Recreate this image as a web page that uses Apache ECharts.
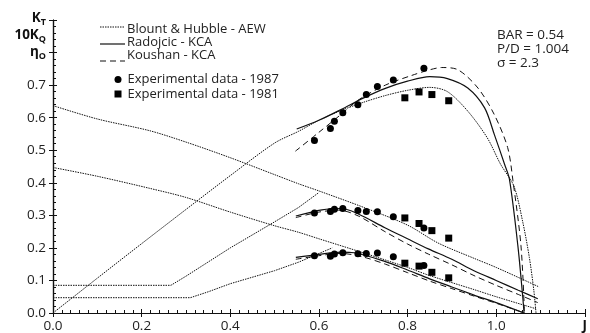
<!DOCTYPE html>
<html>
<head>
<meta charset="utf-8">
<script src="https://cdn.jsdelivr.net/npm/echarts@6/dist/echarts.min.js"></script>
<style>
  html, body { margin: 0; padding: 0; background: #fff; }
  #chart { width: 590px; height: 333px; }
</style>
</head>
<body>
<div id="chart"></div>
<script>
// Advance coefficient J for each curve, with K_T, 10K_Q and eta_O values.

// Blount & Hubble - AEW
const bhEtaJ = [0, 0.1, 0.2, 0.3, 0.4, 0.5, 0.554, 0.6, 0.65, 0.7, 0.75, 0.8, 0.85, 0.89, 0.936, 0.98, 1.01, 1.04, 1.06, 1.075, 1.085, 1.09];
const bhEta  = [0, 0.107, 0.213, 0.318, 0.422, 0.522, 0.558, 0.592, 0.622, 0.647, 0.668, 0.684, 0.693, 0.68, 0.62, 0.538, 0.457, 0.39, 0.28, 0.17, 0.07, 0.0];
const bhKqJ  = [0, 0.1, 0.218, 0.3, 0.4, 0.5, 0.554, 0.6, 0.7, 0.8, 0.869, 0.95, 1.0, 1.097];
const bhKq   = [0.637, 0.596, 0.56, 0.525, 0.477, 0.425, 0.397, 0.375, 0.325, 0.27, 0.215, 0.168, 0.14, 0.08];
const bhKtJ  = [0, 0.1, 0.218, 0.3, 0.4, 0.5, 0.554, 0.6, 0.7, 0.8, 0.85, 0.95, 1.0, 1.09];
const bhKt   = [0.447, 0.42, 0.383, 0.355, 0.31, 0.268, 0.248, 0.228, 0.185, 0.14, 0.115, 0.072, 0.05, 0.013];
// low-J branches of the AEW curves
const bhLowAJ = [0, 0.266, 0.3, 0.4, 0.5, 0.554, 0.6];
const bhLowA  = [0.085, 0.085, 0.113, 0.2, 0.28, 0.324, 0.37];
const bhLowBJ = [0, 0.31, 0.35, 0.4, 0.5, 0.554, 0.63];
const bhLowB  = [0.047, 0.047, 0.065, 0.09, 0.13, 0.156, 0.2];

// Radojcic - KCA
const raEtaJ = [0.55, 0.6, 0.65, 0.7, 0.75, 0.8, 0.85, 0.89, 0.936, 0.974, 0.996, 1.019, 1.03, 1.049, 1.06, 1.063];
const raEta  = [0.565, 0.592, 0.625, 0.66, 0.69, 0.712, 0.726, 0.72, 0.691, 0.63, 0.548, 0.457, 0.411, 0.207, 0.05, 0.0];
const raKqJ  = [0.548, 0.607, 0.652, 0.689, 0.749, 0.8, 0.847, 0.9, 0.95, 1.0, 1.05, 1.094];
const raKq   = [0.298, 0.317, 0.321, 0.304, 0.262, 0.228, 0.197, 0.165, 0.13, 0.1, 0.07, 0.044];
const raKtJ  = [0.548, 0.6, 0.65, 0.68, 0.75, 0.8, 0.85, 0.9, 0.95, 1.0, 1.063];
const raKt   = [0.171, 0.18, 0.187, 0.185, 0.158, 0.132, 0.105, 0.08, 0.055, 0.032, 0.0];

// Koushan - KCA
const koEtaJ = [0.547, 0.6, 0.65, 0.69, 0.75, 0.81, 0.85, 0.877, 0.914, 0.959, 0.996, 1.026, 1.038, 1.056, 1.064];
const koEta  = [0.497, 0.555, 0.61, 0.655, 0.7, 0.73, 0.747, 0.754, 0.747, 0.691, 0.609, 0.508, 0.406, 0.207, 0.0];
const koKqJ  = [0.548, 0.6, 0.645, 0.689, 0.749, 0.8, 0.847, 0.9, 0.95, 1.0, 1.05, 1.094];
const koKq   = [0.293, 0.31, 0.316, 0.298, 0.25, 0.212, 0.181, 0.148, 0.115, 0.085, 0.057, 0.032];
const koKtJ  = [0.548, 0.6, 0.65, 0.7, 0.75, 0.8, 0.85, 0.9, 0.95, 1.0, 1.064];
const koKt   = [0.165, 0.176, 0.183, 0.172, 0.15, 0.124, 0.098, 0.075, 0.052, 0.03, 0.0];

// Experimental data - 1987
const ex87J   = [0.59, 0.626, 0.635, 0.654, 0.688, 0.707, 0.732, 0.768, 0.837];
const ex87Eta = [0.53, 0.567, 0.589, 0.615, 0.64, 0.671, 0.696, 0.716, 0.752];
const ex87Kq  = [0.307, 0.312, 0.319, 0.321, 0.315, 0.312, 0.311, 0.296, 0.261];
const ex87Kt  = [0.176, 0.174, 0.181, 0.185, 0.182, 0.183, 0.184, 0.173, 0.146];

// Experimental data - 1981
const ex81J   = [0.794, 0.826, 0.855, 0.893];
const ex81Eta = [0.661, 0.679, 0.671, 0.652];
const ex81Kq  = [0.292, 0.275, 0.253, 0.23];
const ex81Kt  = [0.153, 0.144, 0.125, 0.108];

// Axis ticks
const xTicks = [0, 0.2, 0.4, 0.6, 0.8, 1.0, 1.2];
const yTicks = [0, 0.1, 0.2, 0.3, 0.4, 0.5, 0.6, 0.7, 0.8, 0.9];

const pairs = (xs, ys) => xs.map((x, i) => [x, ys[i]]);

const INK = '#111';
const FONT = '"Open Sans", "Noto Sans", sans-serif';
const LINE_NAMES = ['Blount & Hubble - AEW', 'Radojcic - KCA', 'Koushan - KCA'];
const POINT_NAMES = ['Experimental data - 1987', 'Experimental data - 1981'];
const styles = {
  'Blount & Hubble - AEW': { type: [1.5, 1], width: 1 },
  'Radojcic - KCA': { type: 'solid', width: 1.2 },
  'Koushan - KCA': { type: [6, 4], width: 1 }
};

function lineSeries(name, xs, ys, smooth) {
  return {
    name, type: 'line', data: pairs(xs, ys), symbol: 'none', showSymbol: false,
    smooth: smooth === undefined ? 0.3 : smooth,
    lineStyle: Object.assign({ color: INK }, styles[name]),
    itemStyle: { color: INK }, z: 3, silent: true
  };
}
function pointSeries(name, xs, ys, symbol) {
  return {
    name, type: 'scatter', data: pairs(xs, ys), symbol, symbolSize: 7,
    itemStyle: { color: '#000', opacity: 1 }, z: 4, silent: true
  };
}

const series = [
  lineSeries('Blount & Hubble - AEW', bhEtaJ, bhEta),
  lineSeries('Blount & Hubble - AEW', bhKqJ, bhKq),
  lineSeries('Blount & Hubble - AEW', bhKtJ, bhKt),
  lineSeries('Blount & Hubble - AEW', bhLowAJ, bhLowA, false),
  lineSeries('Blount & Hubble - AEW', bhLowBJ, bhLowB, false),
  lineSeries('Radojcic - KCA', raEtaJ, raEta),
  lineSeries('Radojcic - KCA', raKqJ, raKq),
  lineSeries('Radojcic - KCA', raKtJ, raKt),
  lineSeries('Koushan - KCA', koEtaJ, koEta),
  lineSeries('Koushan - KCA', koKqJ, koKq),
  lineSeries('Koushan - KCA', koKtJ, koKt),
  pointSeries('Experimental data - 1987', ex87J, ex87Eta, 'circle'),
  pointSeries('Experimental data - 1987', ex87J, ex87Kq, 'circle'),
  pointSeries('Experimental data - 1987', ex87J, ex87Kt, 'circle'),
  pointSeries('Experimental data - 1981', ex81J, ex81Eta, 'rect'),
  pointSeries('Experimental data - 1981', ex81J, ex81Kq, 'rect'),
  pointSeries('Experimental data - 1981', ex81J, ex81Kt, 'rect')
];

const axisLine = { show: true, onZero: false, lineStyle: { color: INK, width: 1.2 } };
const xMin = xTicks[0], xMax = xTicks[xTicks.length - 1];
const yMin = yTicks[0], yMax = yTicks[yTicks.length - 1];
const legendText = { fontFamily: FONT, fontSize: 13, color: '#222' };
const symbolRich = {
  b: { fontWeight: 'bold', fontSize: 13.5, fontFamily: FONT, fill: '#111', color: '#111', lineHeight: 17 },
  s: { fontWeight: 'bold', fontSize: 9, fontFamily: FONT, fill: '#111', color: '#111', lineHeight: 10, verticalAlign: 'bottom' }
};

const option = {
  animation: false,
  backgroundColor: '#fff',
  textStyle: { fontFamily: FONT },
  grid: { left: 53, right: 4, top: 20, bottom: 19, containLabel: false },
  legend: [
    {
      orient: 'vertical', left: 98, top: 18, itemGap: 0,
      itemWidth: 26, itemHeight: 7,
      textStyle: Object.assign({ padding: [0, 0, 0, -7] }, legendText),
      itemStyle: { opacity: 0 },
      data: LINE_NAMES.map(name => ({ name, icon: 'none' }))
    },
    {
      orient: 'vertical', left: 109.5, top: 68, itemGap: 1.5,
      itemWidth: 7, itemHeight: 7,
      textStyle: Object.assign({ padding: [0, 0, 0, 1] }, legendText),
      data: [
        { name: POINT_NAMES[0], icon: 'circle', itemStyle: { color: '#000', opacity: 1 } },
        { name: POINT_NAMES[1], icon: 'rect', itemStyle: { color: '#000', opacity: 1 } }
      ]
    }
  ],
  xAxis: [
    {
      type: 'value', min: xMin, max: xMax, interval: 0.2,
      axisLine, splitLine: { show: false },
      axisTick: { show: true, inside: false, length: 4, lineStyle: { color: INK } },
      axisLabel: {
        margin: 6, color: '#222', fontSize: 13.5, fontFamily: FONT,
        formatter: v => Math.abs(v - xMax) < 1e-9 ? '{j|J}' : v.toFixed(1),
        rich: { j: { fontWeight: 'bold', fontSize: 13.5, fontFamily: FONT, color: '#111' } }
      }
    },
    {
      type: 'value', min: xMin, max: xMax, interval: 0.2, position: 'bottom',
      axisLine, splitLine: { show: false }, axisLabel: { show: false },
      axisTick: { show: true, inside: true, length: 4, lineStyle: { color: INK } },
      minorTick: { show: true, splitNumber: 10, length: 3, lineStyle: { color: INK } }
    }
  ],
  yAxis: [
    {
      type: 'value', min: yMin, max: yMax, interval: 0.1,
      axisLine, splitLine: { show: false },
      axisTick: { show: true, inside: false, length: 4, lineStyle: { color: INK } },
      axisLabel: {
        margin: 7, color: '#222', fontSize: 13.5, fontFamily: FONT,
        formatter: v => {
          if (Math.abs(v - 0.9) < 1e-9) return '';
          if (Math.abs(v - 0.8) < 1e-9) return '{b|η}{s|O}';
          return v.toFixed(1);
        },
        rich: symbolRich
      }
    },
    {
      type: 'value', min: yMin, max: yMax, interval: 0.1, position: 'left',
      axisLine, splitLine: { show: false }, axisLabel: { show: false },
      axisTick: { show: true, inside: true, length: 4, lineStyle: { color: INK } },
      minorTick: { show: true, splitNumber: 5, length: 3, lineStyle: { color: INK } }
    }
  ],
  graphic: [
    // quantity names stacked at the top of the value axis
    { type: 'text', silent: true, style: { x: 46, y: 18, text: '{b|K}{s|T}', rich: symbolRich, align: 'right', verticalAlign: 'middle' } },
    { type: 'text', silent: true, style: { x: 46, y: 35, text: '{b|10K}{s|Q}', rich: symbolRich, align: 'right', verticalAlign: 'middle' } },
    // legend line samples
    { type: 'line', silent: true, shape: { x1: 100, y1: 27, x2: 125, y2: 27 }, style: { stroke: INK, lineWidth: 1, lineDash: [1.5, 1] } },
    { type: 'line', silent: true, shape: { x1: 100, y1: 44, x2: 125, y2: 44 }, style: { stroke: INK, lineWidth: 1.2 } },
    { type: 'line', silent: true, shape: { x1: 100, y1: 61, x2: 125, y2: 61 }, style: { stroke: INK, lineWidth: 1, lineDash: [6, 4] } },
    {
      type: 'text', left: 497, top: 28,
      style: {
        text: 'BAR = 0.54\nP/D = 1.004\nσ = 2.3',
        font: '13.5px "Open Sans", "Noto Sans", sans-serif',
        fill: '#222', lineHeight: 14
      }
    }
  ],
  series
};

const chart = echarts.init(document.getElementById('chart'), null, { renderer: 'canvas' });
chart.setOption(option);
</script>
</body>
</html>
